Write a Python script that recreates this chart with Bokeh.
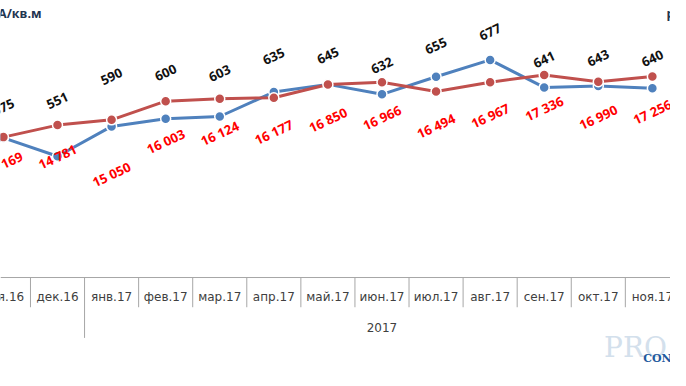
from bokeh.plotting import figure
from bokeh.models import Range1d
from bokeh.core.properties import value
from bokeh.embed import file_html
from bokeh.resources import INLINE

# ---------------- data ----------------
months = ["ноя.16", "дек.16", "янв.17", "фев.17", "мар.17", "апр.17", "май.17",
          "июн.17", "июл.17", "авг.17", "сен.17", "окт.17", "ноя.17"]
year_label = "2017"
year_first, year_last = 2, 12          # month indices covered by the 2017 group
usd_per_sqm = [575, 551, 590, 600, 603, 635, 645, 632, 655, 677, 641, 643, 640]
rub_per_sqm = [14169, 14781, 15050, 16003, 16124, 16177, 16850, 16966, 16494,
               16967, 17336, 16990, 17256]
usd_title = "долл. США/кв.м"
rub_title = "руб./кв.м"

# ---------------- layout ----------------
W, H = 670, 370                 # figure size (fits the window inside the page margin)
REF_W, REF_H = 686, 386         # design grid, in reference pixels
col_w = 55.37                   # width of one month slot (design px)
x_first = 3.0                   # x of the first month centre (design px)
usd_top, usd_bottom = 754.7, 270.8      # values at the top / bottom edge
rub_top, rub_bottom = 21132.0, 2275.0
axis_y, tick_end, group_end = 289, 320, 352
month_label_y, year_label_y = 309, 341
# manual label placement (design px, positive = down)
usd_label_shift = [-32, -58, -52, -48, -45, -37, -30, -30, -32, -29, -29, -29, -31]
rub_label_shift = [28, 33, 57, 42, 36, 36, 37, 37, 36, 35, 35, 37, 37]

BLUE = "#4F81BD"
RED = "#C0504D"

usd_ppu = REF_H / (usd_top - usd_bottom)
rub_ppu = REF_H / (rub_top - rub_bottom)

p = figure(width=W, height=H, output_backend="svg", toolbar_location=None,
           x_axis_location=None, y_axis_location=None,
           min_border=0, min_border_left=0, min_border_right=0,
           min_border_top=0, min_border_bottom=0)
p.x_range = Range1d(-x_first / col_w, (REF_W - x_first) / col_w)
p.y_range = Range1d(usd_bottom, usd_top)
p.extra_y_ranges = {"rub": Range1d(rub_bottom, rub_top), "px": Range1d(REF_H, 0)}
p.extra_x_ranges = {"px": Range1d(0, REF_W)}
p.grid.visible = False
p.outline_line_color = None
p.background_fill_color = "white"
p.border_fill_color = "white"

xs = list(range(len(months)))

# ---------------- category axis ----------------
p.segment(x0=[0], y0=[axis_y], x1=[REF_W], y1=[axis_y], x_range_name="px",
          y_range_name="px", line_color="#A6A6A6", line_width=1)
bx = [i - 0.5 for i in xs[1:]]
tick_bottom = [group_end if b == year_first - 0.5 else tick_end for b in bx]
p.segment(x0=bx, y0=[axis_y] * len(bx), x1=bx, y1=tick_bottom,
          y_range_name="px", line_color="#A6A6A6", line_width=1)
p.text(x=xs, y=[month_label_y] * len(xs), text=months, y_range_name="px",
       text_font=value("DejaVu Sans"), text_font_size="12px",
       text_color="#404040", text_align="center", text_baseline="middle")
p.text(x=[(year_first + year_last) / 2], y=[year_label_y], text=[year_label],
       y_range_name="px", text_font=value("DejaVu Sans"), text_font_size="12px",
       text_color="#404040", text_align="center", text_baseline="middle")

# ---------------- series ----------------
p.line(xs, usd_per_sqm, line_color=BLUE, line_width=3)
p.scatter(xs, usd_per_sqm, size=10, fill_color=BLUE, line_color="white", line_width=1.5)
p.line(xs, rub_per_sqm, line_color=RED, line_width=3, y_range_name="rub")
p.scatter(xs, rub_per_sqm, size=10, fill_color=RED, line_color="white",
          line_width=1.5, y_range_name="rub")

# ---------------- data labels ----------------
usd_ly = [v - s / usd_ppu for v, s in zip(usd_per_sqm, usd_label_shift)]
rub_ly = [v - s / rub_ppu for v, s in zip(rub_per_sqm, rub_label_shift)]
fmt = lambda v: f"{v:,}".replace(",", " ")
p.text(x=xs, y=usd_ly, text=[fmt(v) for v in usd_per_sqm], angle=25, angle_units="deg",
       text_font=value("Open Sans"), text_font_size="13px", text_font_style="bold",
       text_color="#111111", text_align="center", text_baseline="middle")
p.text(x=xs, y=rub_ly, text=[fmt(v) for v in rub_per_sqm], angle=25, angle_units="deg",
       y_range_name="rub", text_font=value("Open Sans"), text_font_size="13px",
       text_font_style="bold", text_color="#FF0000",
       text_align="center", text_baseline="middle")

# ---------------- titles & logo ----------------
p.text(x=[42], y=[14], text=[usd_title], x_range_name="px", y_range_name="px",
       text_font=value("Open Sans"), text_font_size="12.5px", text_font_style="bold",
       text_color="#1F3550", text_align="right", text_baseline="middle")
p.text(x=[682], y=[14], text=[rub_title], x_range_name="px", y_range_name="px",
       text_font=value("Open Sans"), text_font_size="12.5px", text_font_style="bold",
       text_color="#1F3550", text_align="left", text_baseline="middle")
p.text(x=[618], y=[362], text=["PRO"], x_range_name="px", y_range_name="px",
       text_font=value("DejaVu Serif"), text_font_size="28px",
       text_color="#D3E0EC", text_align="left", text_baseline="middle")
p.text(x=[658], y=[373], text=["CON"], x_range_name="px", y_range_name="px",
       text_font=value("DejaVu Serif"), text_font_size="11px", text_font_style="bold",
       text_color="#1F5A9E", text_align="left", text_baseline="middle")

open("out.html", "w").write(file_html(p, INLINE))
